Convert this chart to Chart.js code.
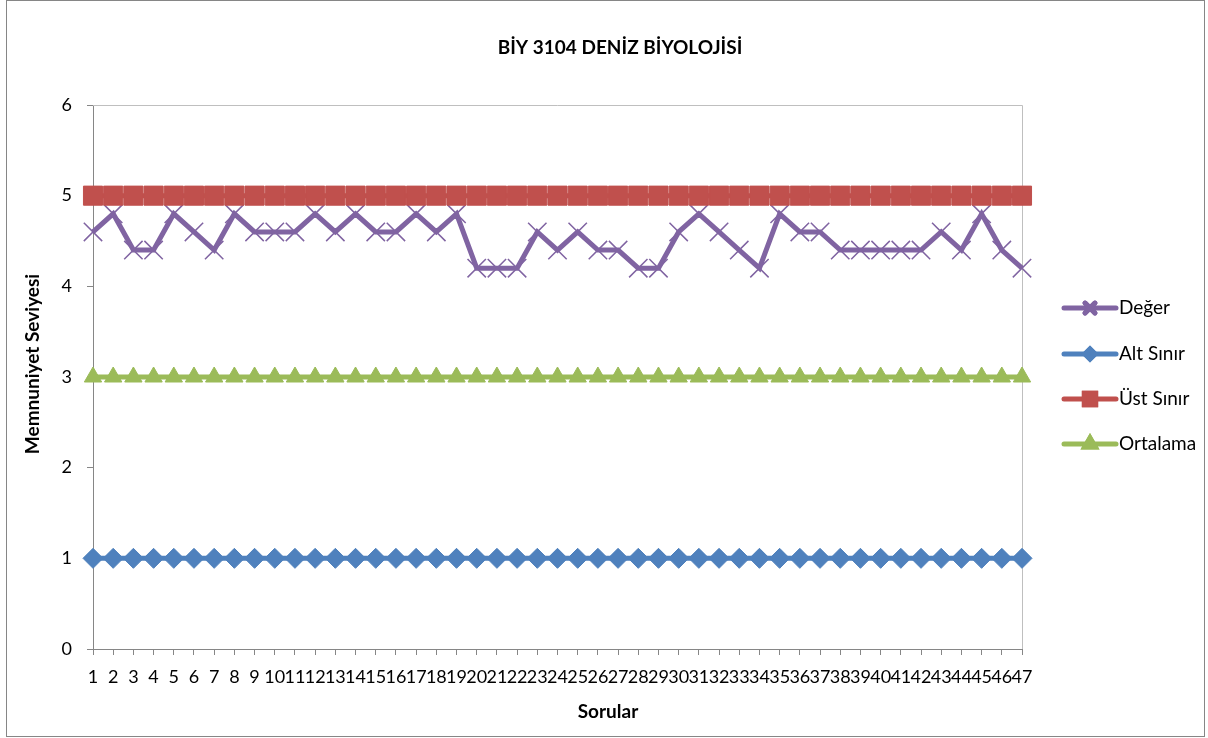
<!DOCTYPE html>
<html>
<head>
<meta charset="utf-8">
<script src="https://cdn.jsdelivr.net/npm/chart.js@4"></script>
<style>
  html, body { margin: 0; padding: 0; background: #fff; }
  #wrap { width: 1208px; height: 738px; }
</style>
</head>
<body>
<div id="wrap"><canvas id="chart" width="1208" height="738"></canvas></div>
<script>
/* ===============================
   Data
================================ */
const questions = [];
for (let i = 1; i <= 47; i++) questions.push(String(i));

const deger = [
  4.6, 4.8, 4.4, 4.4, 4.8, 4.6, 4.4, 4.8, 4.6, 4.6,
  4.6, 4.8, 4.6, 4.8, 4.6, 4.6, 4.8, 4.6, 4.8, 4.2,
  4.2, 4.2, 4.6, 4.4, 4.6, 4.4, 4.4, 4.2, 4.2, 4.6,
  4.8, 4.6, 4.4, 4.2, 4.8, 4.6, 4.6, 4.4, 4.4, 4.4,
  4.4, 4.4, 4.6, 4.4, 4.8, 4.4, 4.2
];
const altSinir = questions.map(() => 1);
const ustSinir = questions.map(() => 5);
const ortalama = questions.map(() => 3);

const yTicks = [0, 1, 2, 3, 4, 5, 6];

const FONT = "Lato, 'Open Sans', sans-serif";
const AXIS_GRAY = "#868686";
const FRAME_GRAY = "#bfbfbf";

/* ===============================
   Frame, titles and legend
================================ */
const decorPlugin = {
  id: "decor",
  beforeDraw(chart) {
    const ctx = chart.ctx;
    ctx.save();
    ctx.fillStyle = "#fff";
    ctx.fillRect(0, 0, chart.width, chart.height);
    ctx.restore();
  },
  beforeDatasetsDraw(chart) {
    const { ctx, chartArea: a } = chart;
    ctx.save();
    ctx.strokeStyle = FRAME_GRAY;
    ctx.lineWidth = 1;
    ctx.beginPath();
    ctx.moveTo(a.left, a.top + 0.5);
    ctx.lineTo(a.right + 0.5, a.top + 0.5);
    ctx.lineTo(a.right + 0.5, a.bottom);
    ctx.stroke();
    ctx.restore();
  },
  afterDraw(chart) {
    const ctx = chart.ctx;
    ctx.save();
    // outer chart border
    ctx.strokeStyle = AXIS_GRAY;
    ctx.lineWidth = 1;
    ctx.strokeRect(6.5, 0.5, 1198, 736);

    ctx.fillStyle = "#000";
    ctx.textAlign = "center";
    ctx.textBaseline = "middle";
    ctx.font = "bold 19px " + FONT;
    ctx.fillText("BİY 3104 DENİZ BİYOLOJİSİ", 620, 48);

    ctx.font = "bold 19px " + FONT;
    ctx.fillText("Sorular", 608, 712);

    ctx.translate(33, 364);
    ctx.rotate(-Math.PI / 2);
    ctx.fillText("Memnuniyet Seviyesi", 0, 0);
    ctx.restore();

    // legend
    ctx.save();
    const rows = [308, 354, 399, 444];
    chart.data.datasets.forEach((ds, i) => {
      const y = rows[i];
      ctx.strokeStyle = ds.borderColor;
      ctx.lineWidth = 5;
      ctx.lineCap = "round";
      ctx.beginPath();
      ctx.moveTo(1064, y);
      ctx.lineTo(1116, y);
      ctx.stroke();
      Chart.helpers.drawPoint(ctx, {
        pointStyle: ds.pointStyle,
        radius: ds.legendRadius,
        rotation: 0,
        borderWidth: ds.pointBorderWidth
      }, 1090, y);
      ctx.fillStyle = ds.pointBackgroundColor;
      ctx.strokeStyle = ds.pointBorderColor;
      ctx.fill();
      ctx.stroke();
      ctx.fillStyle = "#000";
      ctx.font = "19px " + FONT;
      ctx.textAlign = "left";
      ctx.textBaseline = "middle";
      ctx.fillText(ds.label, 1119, y);
    });
    ctx.restore();
  }
};

/* ===============================
   Chart
================================ */
const purple = "#8064A2";
const blue = "#4F81BD";
const red = "#C0504D";
const green = "#9BBB59";

new Chart(document.getElementById("chart"), {
  type: "line",
  data: {
    labels: questions,
    datasets: [
      {
        label: "Değer",
        data: deger,
        borderColor: purple,
        borderWidth: 5,
        pointStyle: "crossRot",
        pointRadius: 13,
        pointBorderWidth: 1.5,
        pointBorderColor: purple,
        pointBackgroundColor: purple,
        legendRadius: 7,
        order: 3
      },
      {
        label: "Alt Sınır",
        data: altSinir,
        borderColor: blue,
        borderWidth: 5,
        pointStyle: "rectRot",
        pointRadius: 10,
        pointBorderWidth: 1,
        pointBorderColor: blue,
        pointBackgroundColor: blue,
        legendRadius: 5,
        order: 2
      },
      {
        label: "Üst Sınır",
        data: ustSinir,
        borderColor: red,
        borderWidth: 5,
        pointStyle: "rect",
        pointRadius: 13.5,
        pointBorderWidth: 1,
        pointBorderColor: red,
        pointBackgroundColor: red,
        legendRadius: 8,
        order: 0
      },
      {
        label: "Ortalama",
        data: ortalama,
        borderColor: green,
        borderWidth: 5,
        pointStyle: "triangle",
        pointRadius: 10,
        pointBorderWidth: 1,
        pointBorderColor: green,
        pointBackgroundColor: green,
        legendRadius: 6,
        order: 1
      }
    ]
  },
  options: {
    responsive: false,
    animation: false,
    devicePixelRatio: 1,
    layout: { padding: { left: 6, right: 186, top: 105, bottom: 0 } },
    plugins: {
      legend: { display: false },
      title: { display: false },
      tooltip: { enabled: false }
    },
    elements: { line: { tension: 0 } },
    scales: {
      x: {
        type: "category",
        offset: false,
        afterFit: s => { s.height = 89; },
        grid: {
          drawOnChartArea: false,
          offset: false,
          tickLength: 6,
          color: AXIS_GRAY
        },
        border: { color: AXIS_GRAY, width: 1 },
        ticks: {
          autoSkip: false,
          maxRotation: 0,
          minRotation: 0,
          padding: 11,
          color: "#000",
          font: { family: FONT, size: 18 }
        }
      },
      y: {
        min: 0,
        max: 6,
        afterFit: s => { s.width = 87; },
        afterBuildTicks: s => { s.ticks = yTicks.map(v => ({ value: v })); },
        grid: {
          drawOnChartArea: false,
          tickLength: 6,
          color: AXIS_GRAY
        },
        border: { color: AXIS_GRAY, width: 1 },
        ticks: {
          padding: 15,
          color: "#000",
          font: { family: FONT, size: 18 }
        }
      }
    }
  },
  plugins: [decorPlugin]
});
</script>
</body>
</html>
